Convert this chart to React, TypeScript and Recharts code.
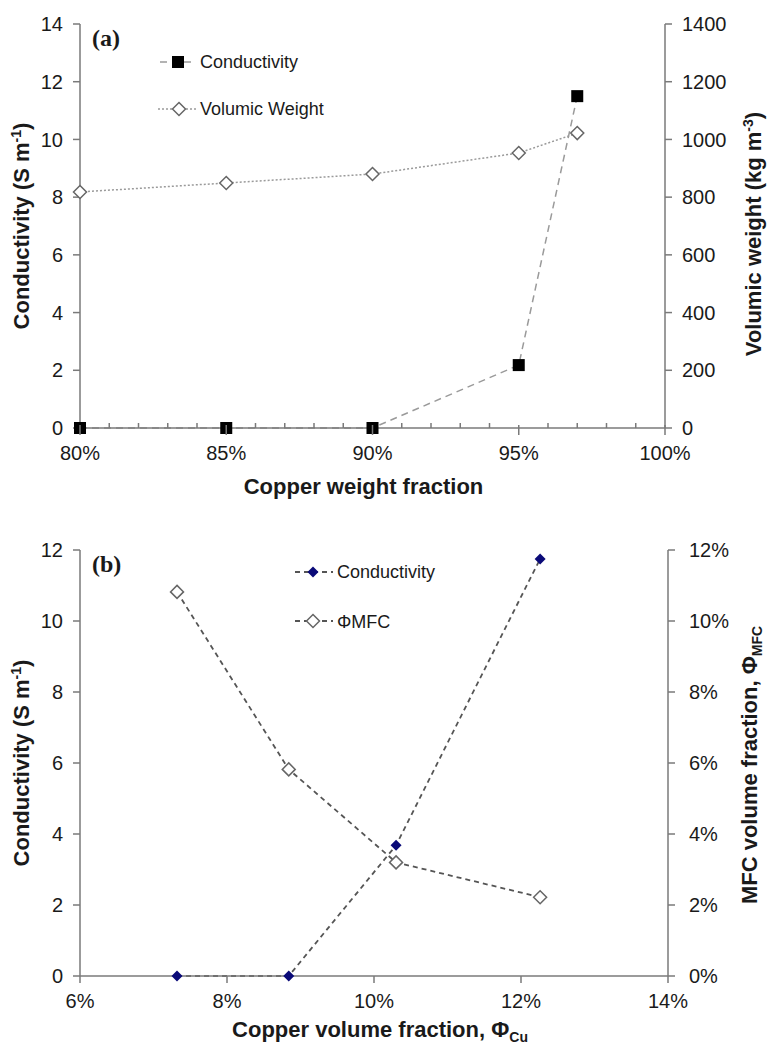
import { LineChart, Line, XAxis, YAxis, Legend } from "recharts";

const FONT = "'Liberation Sans', Arial, sans-serif";
const SERIF = "'Liberation Serif', 'Times New Roman', serif";
const AXIS = "#7a7a7a";
const TEXT = "#1a1a1a";

// (a) copper weight fraction (%)
const weightFraction = [80, 85, 90, 95, 97];
const conductivityA = [0, 0, 0, 2.18, 11.5];
const volumicWeight = [818, 849, 880, 953, 1022];
const weightTicks = [80, 81, 82, 83, 84, 85, 86, 87, 88, 89, 90, 91, 92, 93, 94, 95, 96, 97, 98, 99, 100];
const condTicksA = [0, 2, 4, 6, 8, 10, 12, 14];
const volumicTicks = [0, 200, 400, 600, 800, 1000, 1200, 1400];

// (b) copper volume fraction (%)
const volumeFraction = [7.32, 8.84, 10.3, 12.26];
const conductivityB = [0, 0, 3.68, 11.75];
const mfcFraction = [10.82, 5.82, 3.2, 2.22];
const volumeTicks = [6, 8, 10, 12, 14];
const condTicksB = [0, 2, 4, 6, 8, 10, 12];
const mfcTicks = [0, 2, 4, 6, 8, 10, 12];

const dataA = weightFraction.map((x, i) => ({ x, cond: conductivityA[i], vw: volumicWeight[i] }));
const dataB = volumeFraction.map((x, i) => ({ x, cond: conductivityB[i], mfc: mfcFraction[i] }));

const tickStyle = { fontSize: 20, fill: TEXT, fontFamily: FONT };
const axisLine = { stroke: AXIS, strokeWidth: 1.5 };

const diamondPoints = (cx: number, cy: number, r: number) =>
    `${cx},${cy - r} ${cx + r},${cy} ${cx},${cy + r} ${cx - r},${cy}`;

// eslint-disable-next-line @typescript-eslint/no-explicit-any
const squareDot = (p: any) => {
    if (p.cx == null || p.cy == null) return <g key={`sq-${p.index}`} />;
    return <rect key={`sq-${p.index}`} x={p.cx - 6} y={p.cy - 6} width={12} height={12} fill="#000" />;
};

// eslint-disable-next-line @typescript-eslint/no-explicit-any
const openDiamond = (p: any) => {
    if (p.cx == null || p.cy == null) return <g key={`od-${p.index}`} />;
    return (
        <polygon
            key={`od-${p.index}`}
            points={diamondPoints(p.cx, p.cy, 6.5)}
            fill="#fff"
            stroke="#666"
            strokeWidth={1.5}
        />
    );
};

// eslint-disable-next-line @typescript-eslint/no-explicit-any
const navyDiamond = (p: any) => {
    if (p.cx == null || p.cy == null) return <g key={`nd-${p.index}`} />;
    return <polygon key={`nd-${p.index}`} points={diamondPoints(p.cx, p.cy, 5.5)} fill="#0a0a78" />;
};

// major ticks every 5 %, small inner ticks every 1 %
// eslint-disable-next-line @typescript-eslint/no-explicit-any
const weightTick = (p: any) => {
    const v = p.payload.value;
    const major = v % 5 === 0;
    return (
        <g key={`wt-${v}`}>
            {major ? (
                <line x1={p.x} x2={p.x} y1={p.y - 3} y2={p.y + 7} stroke={AXIS} strokeWidth={1.5} />
            ) : (
                <line x1={p.x} x2={p.x} y1={p.y - 5} y2={p.y} stroke={AXIS} strokeWidth={1.5} />
            )}
            {major && (
                <text x={p.x} y={p.y + 32} textAnchor="middle" {...tickStyle}>
                    {v}%
                </text>
            )}
        </g>
    );
};

const titleProps = { fontSize: 22, fontWeight: "bold", fill: TEXT, fontFamily: FONT };

// eslint-disable-next-line @typescript-eslint/no-explicit-any
const leftTitle = (panel: string) => (p: any) => {
    const vb = p.viewBox;
    const cy = vb.y + vb.height / 2;
    return (
        <g>
            <text x={29} y={cy} transform={`rotate(-90, 29, ${cy})`} textAnchor="middle" {...titleProps}>
                Conductivity (S m<tspan dy={-8} fontSize={14}>-1</tspan>
                <tspan dy={8}>)</tspan>
            </text>
            <text x={92} y={vb.y + 22} fontSize={24} fontWeight="bold" fill={TEXT} fontFamily={SERIF}>
                {panel}
            </text>
        </g>
    );
};

// eslint-disable-next-line @typescript-eslint/no-explicit-any
const volumicTitle = (p: any) => {
    const vb = p.viewBox;
    const cy = vb.y + vb.height / 2 + 8;
    return (
        <text x={761} y={cy} transform={`rotate(-90, 761, ${cy})`} textAnchor="middle" {...titleProps}>
            Volumic weight (kg m<tspan dy={-8} fontSize={14}>-3</tspan>
            <tspan dy={8}>)</tspan>
        </text>
    );
};

// eslint-disable-next-line @typescript-eslint/no-explicit-any
const mfcTitle = (p: any) => {
    const vb = p.viewBox;
    const cy = vb.y + vb.height / 2 + 2;
    return (
        <text x={757} y={cy} transform={`rotate(-90, 757, ${cy})`} textAnchor="middle" {...titleProps}>
            MFC volume fraction, Φ<tspan dy={5} fontSize={14}>MFC</tspan>
        </text>
    );
};

// eslint-disable-next-line @typescript-eslint/no-explicit-any
const weightTitle = (p: any) => {
    const vb = p.viewBox;
    return (
        <text x={vb.x + vb.width / 2 - 9} y={494} textAnchor="middle" {...titleProps}>
            Copper weight fraction
        </text>
    );
};

// eslint-disable-next-line @typescript-eslint/no-explicit-any
const volumeTitle = (p: any) => {
    const vb = p.viewBox;
    return (
        <text x={vb.x + vb.width / 2 + 6} y={532} textAnchor="middle" {...titleProps}>
            Copper volume fraction, Φ<tspan dy={5} fontSize={14}>Cu</tspan>
        </text>
    );
};

const legendText = { fontSize: 18, fill: TEXT, fontFamily: FONT };
const legendWrapper = { position: "absolute" as const, left: 0, top: 0, width: 0, height: 0 };

const LegendA = () => (
    <svg width={768} height={130} style={{ position: "absolute", left: 0, top: 0, overflow: "visible" }}>
        <line x1={160} x2={196} y1={62} y2={62} stroke="#9a9a9a" strokeWidth={1.5} strokeDasharray="7 5" />
        <rect x={172} y={56} width={12} height={12} fill="#000" />
        <text x={200} y={68} {...legendText}>Conductivity</text>
        <line x1={158} x2={197} y1={109} y2={109} stroke="#9a9a9a" strokeWidth={1.5} strokeDasharray="2 2" />
        <polygon points={diamondPoints(179, 109, 6.5)} fill="#fff" stroke="#666" strokeWidth={1.5} />
        <text x={200} y={115} {...legendText}>Volumic Weight</text>
    </svg>
);

const LegendB = () => (
    <svg width={768} height={130} style={{ position: "absolute", left: 0, top: 0, overflow: "visible" }}>
        <line x1={295} x2={333} y1={67} y2={67} stroke="#555" strokeWidth={1.8} strokeDasharray="5 4" />
        <polygon points={diamondPoints(313, 67, 5.5)} fill="#0a0a78" />
        <text x={337} y={73} {...legendText}>Conductivity</text>
        <line x1={295} x2={333} y1={116} y2={116} stroke="#555" strokeWidth={1.8} strokeDasharray="5 4" />
        <polygon points={diamondPoints(313, 116, 6.5)} fill="#fff" stroke="#666" strokeWidth={1.5} />
        <text x={337} y={123} {...legendText}>ΦMFC</text>
    </svg>
);

export default function App() {
    return (
        <div style={{ position: "absolute", left: 0, top: 0, width: 768, height: 1048, background: "#fff" }}>
            <div style={{ position: "absolute", left: 0, top: 0 }}>
                <LineChart width={768} height={505} data={dataA} margin={{ top: 24, right: 0, bottom: 0, left: 0 }}>
                    <XAxis
                        dataKey="x"
                        type="number"
                        domain={[80, 100]}
                        ticks={weightTicks}
                        interval={0}
                        tickSize={0}
                        tickMargin={0}
                        tickLine={false}
                        tick={weightTick}
                        axisLine={axisLine}
                        height={77}
                        label={weightTitle}
                    />
                    <YAxis
                        yAxisId="left"
                        type="number"
                        domain={[0, 14]}
                        ticks={condTicksA}
                        interval={0}
                        width={80}
                        tick={tickStyle}
                        tickSize={7}
                        tickMargin={10}
                        tickLine={axisLine}
                        axisLine={axisLine}
                        label={leftTitle("(a)")}
                    />
                    <YAxis
                        yAxisId="right"
                        orientation="right"
                        type="number"
                        domain={[0, 1400]}
                        ticks={volumicTicks}
                        interval={0}
                        width={103}
                        tick={tickStyle}
                        tickSize={7}
                        tickMargin={10}
                        tickLine={axisLine}
                        axisLine={axisLine}
                        label={volumicTitle}
                    />
                    <Legend content={<LegendA />} wrapperStyle={legendWrapper} />
                    <Line
                        yAxisId="right"
                        dataKey="vw"
                        name="Volumic Weight"
                        stroke="#9a9a9a"
                        strokeWidth={1.5}
                        strokeDasharray="2 2"
                        dot={openDiamond}
                        activeDot={false}
                        isAnimationActive={false}
                    />
                    <Line
                        yAxisId="left"
                        dataKey="cond"
                        name="Conductivity"
                        stroke="#9a9a9a"
                        strokeWidth={1.5}
                        strokeDasharray="7 5"
                        dot={squareDot}
                        activeDot={false}
                        isAnimationActive={false}
                    />
                </LineChart>
            </div>
            <div style={{ position: "absolute", left: 0, top: 505 }}>
                <LineChart width={768} height={543} data={dataB} margin={{ top: 45, right: 0, bottom: 0, left: 0 }}>
                    <XAxis
                        dataKey="x"
                        type="number"
                        domain={[6, 14]}
                        ticks={volumeTicks}
                        interval={0}
                        tick={tickStyle}
                        tickFormatter={(v: number) => `${v}%`}
                        tickSize={7}
                        tickMargin={11}
                        tickLine={axisLine}
                        axisLine={axisLine}
                        height={72}
                        label={volumeTitle}
                    />
                    <YAxis
                        yAxisId="left"
                        type="number"
                        domain={[0, 12]}
                        ticks={condTicksB}
                        interval={0}
                        width={80}
                        tick={tickStyle}
                        tickSize={7}
                        tickMargin={10}
                        tickLine={axisLine}
                        axisLine={axisLine}
                        label={leftTitle("(b)")}
                    />
                    <YAxis
                        yAxisId="right"
                        orientation="right"
                        type="number"
                        domain={[0, 12]}
                        ticks={mfcTicks}
                        interval={0}
                        width={100}
                        tick={tickStyle}
                        tickFormatter={(v: number) => `${v}%`}
                        tickSize={7}
                        tickMargin={14}
                        tickLine={axisLine}
                        axisLine={axisLine}
                        label={mfcTitle}
                    />
                    <Legend content={<LegendB />} wrapperStyle={legendWrapper} />
                    <Line
                        yAxisId="right"
                        dataKey="mfc"
                        name="ΦMFC"
                        stroke="#555"
                        strokeWidth={1.8}
                        strokeDasharray="5 4"
                        dot={openDiamond}
                        activeDot={false}
                        isAnimationActive={false}
                    />
                    <Line
                        yAxisId="left"
                        dataKey="cond"
                        name="Conductivity"
                        stroke="#555"
                        strokeWidth={1.8}
                        strokeDasharray="5 4"
                        dot={navyDiamond}
                        activeDot={false}
                        isAnimationActive={false}
                    />
                </LineChart>
            </div>
        </div>
    );
}
